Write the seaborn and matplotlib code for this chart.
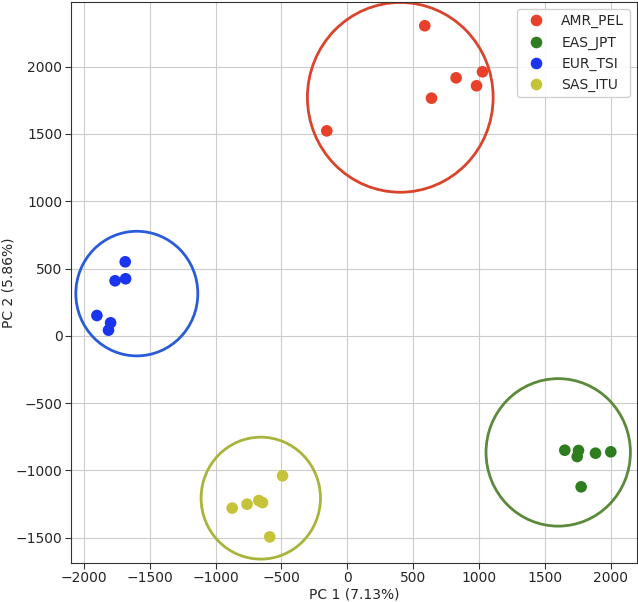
import numpy as np
import pandas as pd
import matplotlib
matplotlib.use("Agg")
import matplotlib.pyplot as plt
import seaborn as sns
from matplotlib.patches import Circle

# -----------------------------------------------------------------------------
# DATA
# -----------------------------------------------------------------------------

groups = ["AMR_PEL", "EAS_JPT", "EUR_TSI", "SAS_ITU"]

amr_x = [588, 826, 1026, 981, 639, -156]
amr_y = [2304, 1917, 1962, 1858, 1766, 1523]

eas_x = [1651, 1755, 1745, 1884, 2000, 1775]
eas_y = [-850, -852, -897, -872, -862, -1122]

eur_x = [-1686, -1683, -1763, -1901, -1797, -1813]
eur_y = [550, 424, 409, 151, 97, 42]

sas_x = [-492, -874, -761, -672, -644, -589]
sas_y = [-1040, -1280, -1251, -1224, -1239, -1494]

# circle centres / radii per group
circle_cx = [402, 1601, -1598, -657]
circle_cy = [1772, -866, 314, -1206]
circle_r = [705, 548, 463, 453]

point_colors = ["#e8402a", "#2e7d1f", "#1a35f0", "#c6c23a"]
circle_colors = ["#d9442a", "#5a8a3a", "#2a5cd9", "#a8b43a"]

df = pd.DataFrame({
    "PC1": amr_x + eas_x + eur_x + sas_x,
    "PC2": amr_y + eas_y + eur_y + sas_y,
    "pop": [g for g in groups for _ in range(6)],
})

# -----------------------------------------------------------------------------
# PLOT
# -----------------------------------------------------------------------------

sns.set_style("whitegrid", {"axes.edgecolor": "#333333", "grid.color": "#cccccc",
                            "xtick.bottom": True, "ytick.left": True})

fig = plt.figure(figsize=(6.38, 6.02), dpi=100)
ax = fig.add_axes([0.111, 0.065, 0.887, 0.932])

sns.scatterplot(data=df, x="PC1", y="PC2", hue="pop", hue_order=groups,
                palette=point_colors, s=70, edgecolor="none", ax=ax, zorder=3)

for cx, cy, r, c in zip(circle_cx, circle_cy, circle_r, circle_colors):
    ax.add_patch(Circle((cx, cy), r, fill=False, edgecolor=c, linewidth=2, zorder=2))

ax.set_xlim(-2099, 2197)
ax.set_ylim(-1687, 2482)
ax.set_xticks(np.arange(-2000, 2001, 500))
ax.set_yticks(np.arange(-1500, 2001, 500))
ax.set_xlabel("PC 1 (7.13%)", fontsize=10, labelpad=2)
ax.set_ylabel("PC 2 (5.86%)", fontsize=10)
ax.yaxis.set_label_coords(-0.098, 0.5)
ax.tick_params(labelsize=10, length=4, pad=2, color="#333333")
ax.legend(loc="upper right", fontsize=10, framealpha=0.9)

plt.savefig("out.png", dpi=100)
plt.close()
